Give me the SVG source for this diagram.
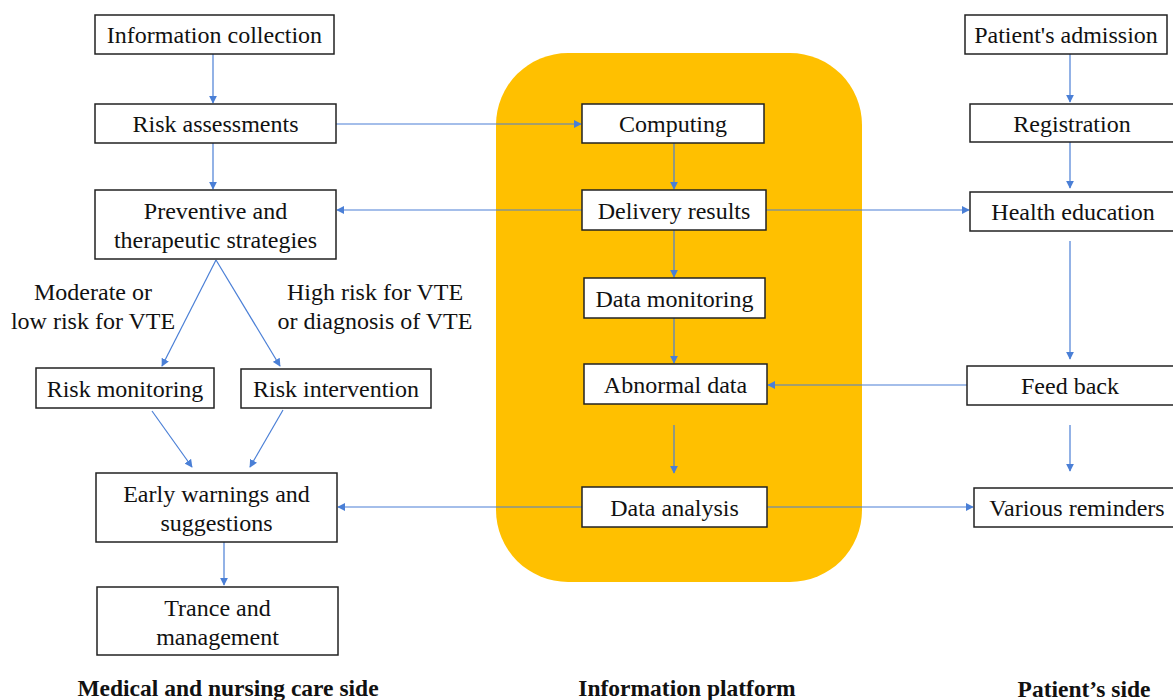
<svg xmlns="http://www.w3.org/2000/svg" width="1173" height="700" viewBox="0 0 1173 700">
<style>
.box{fill:#fff;stroke:#222;stroke-width:1.5}
text{font-family:"Liberation Serif","Times New Roman",serif;font-size:24px;fill:#111;text-anchor:middle}
.lbl{font-weight:bold;font-size:23.5px}
.c{stroke:#4a7fd6;stroke-width:1.2;fill:none;marker-end:url(#ah)}
</style>
<defs>
<marker id="ah" viewBox="0 0 10 10" refX="9" refY="5" markerWidth="8" markerHeight="8" markerUnits="userSpaceOnUse" orient="auto">
<path d="M0,0 L10,5 L0,10 z" fill="#4a7fd6"/>
</marker>
</defs>
<rect x="496" y="53" width="366" height="529" rx="72" fill="#FFC000"/>
<g id="connectors">
<line class="c" x1="213" y1="54" x2="213" y2="103"/>
<line class="c" x1="336" y1="124" x2="581" y2="124"/>
<line class="c" x1="213" y1="143" x2="213" y2="189"/>
<line class="c" x1="674" y1="143" x2="674" y2="189"/>
<line class="c" x1="582" y1="210" x2="337" y2="210"/>
<line class="c" x1="766" y1="210" x2="969" y2="210"/>
<line class="c" x1="674" y1="230" x2="674" y2="277"/>
<line class="c" x1="674" y1="318" x2="674" y2="363"/>
<line class="c" x1="674" y1="425" x2="674" y2="473"/>
<line class="c" x1="967" y1="385" x2="768" y2="385"/>
<line class="c" x1="582" y1="507" x2="338" y2="507"/>
<line class="c" x1="767" y1="507" x2="973" y2="507"/>
<line class="c" x1="1070" y1="54" x2="1070" y2="102"/>
<line class="c" x1="1070" y1="142" x2="1070" y2="188"/>
<line class="c" x1="1070" y1="241" x2="1070" y2="359"/>
<line class="c" x1="1070" y1="425" x2="1070" y2="471"/>
<line class="c" x1="216" y1="260" x2="162" y2="366"/>
<line class="c" x1="216" y1="260" x2="280" y2="366"/>
<line class="c" x1="152" y1="411" x2="192" y2="467"/>
<line class="c" x1="283" y1="410" x2="250" y2="467"/>
<line class="c" x1="224" y1="542" x2="224" y2="585"/>
</g>
<g id="n-info"><rect class="box" x="95" y="15" width="239" height="39"/><text x="214.5" y="43">Information collection</text></g>
<g id="n-risk"><rect class="box" x="95" y="104" width="241" height="39"/><text x="215.5" y="132">Risk assessments</text></g>
<g id="n-prev"><rect class="box" x="95" y="190" width="241" height="69"/><text x="215.5" y="219">Preventive and</text><text x="215.5" y="248">therapeutic strategies</text></g>
<g id="lbl-mod"><text x="93" y="300">Moderate or</text><text x="93" y="329">low risk for VTE</text></g>
<g id="lbl-high"><text x="375" y="300">High risk for VTE</text><text x="375" y="329">or diagnosis of VTE</text></g>
<g id="n-rmon"><rect class="box" x="36" y="368" width="178" height="40"/><text x="125" y="397">Risk monitoring</text></g>
<g id="n-rint"><rect class="box" x="241" y="369" width="190" height="39"/><text x="336" y="397">Risk intervention</text></g>
<g id="n-early"><rect class="box" x="96" y="473" width="241" height="69"/><text x="216.5" y="502">Early warnings and</text><text x="216.5" y="531">suggestions</text></g>
<g id="n-trance"><rect class="box" x="97" y="587" width="241" height="68"/><text x="217.5" y="616">Trance and</text><text x="217.5" y="645">management</text></g>
<g id="n-comp"><rect class="box" x="582" y="104" width="182" height="39"/><text x="673" y="132">Computing</text></g>
<g id="n-deliv"><rect class="box" x="582" y="190" width="184" height="40"/><text x="674" y="219">Delivery results</text></g>
<g id="n-dmon"><rect class="box" x="584" y="278" width="181" height="40"/><text x="674.5" y="307">Data monitoring</text></g>
<g id="n-abn"><rect class="box" x="584" y="364" width="183" height="40"/><text x="675.5" y="393">Abnormal data</text></g>
<g id="n-dana"><rect class="box" x="582" y="487" width="185" height="40"/><text x="674.5" y="516">Data analysis</text></g>
<g id="n-adm"><rect class="box" x="965" y="15" width="202" height="39"/><text x="1066" y="43">Patient's admission</text></g>
<g id="n-reg"><rect class="box" x="970" y="104" width="205" height="38"/><text x="1072" y="132">Registration</text></g>
<g id="n-health"><rect class="box" x="970" y="192" width="205" height="39"/><text x="1073" y="220">Health education</text></g>
<g id="n-feed"><rect class="box" x="967" y="366" width="208" height="39"/><text x="1070" y="394">Feed back</text></g>
<g id="n-rem"><rect class="box" x="974" y="488" width="201" height="39"/><text x="1077" y="516">Various reminders</text></g>
<g id="labels">
<text class="lbl" x="228" y="696">Medical and nursing care side</text>
<text class="lbl" x="687" y="696">Information platform</text>
<text class="lbl" x="1084" y="697">Patient’s side</text>
</g>
</svg>
